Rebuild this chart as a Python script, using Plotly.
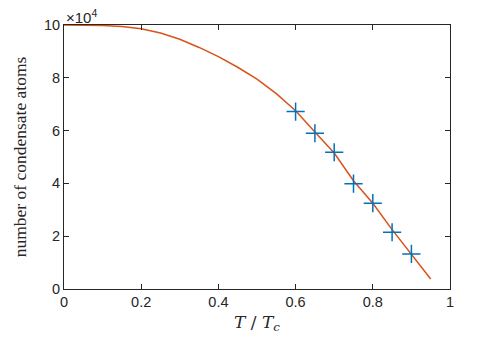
import plotly.graph_objects as go

# curve: N/1e4 vs T/Tc
t_curve = [0.0, 0.05, 0.1, 0.15, 0.2, 0.25, 0.3, 0.35, 0.4, 0.45, 0.5,
           0.55, 0.6, 0.65, 0.7, 0.75, 0.8, 0.85, 0.9, 0.95]
n_curve = [10.0, 10.0, 9.98, 9.94, 9.86, 9.7, 9.46, 9.15, 8.8, 8.4, 7.95,
           7.4, 6.75, 5.95, 5.15, 4.1, 3.25, 2.25, 1.33, 0.38]

# measured points (+)
t_meas = [0.6, 0.65, 0.7, 0.75, 0.8, 0.85, 0.9]
n_meas = [6.72, 5.9, 5.18, 3.99, 3.25, 2.15, 1.33]

x_ticks = [0, 0.2, 0.4, 0.6, 0.8, 1]
x_ticktext = ['0', '0.2', '0.4', '0.6', '0.8', '1']
y_ticks = [0, 2, 4, 6, 8, 10]

axcol = '#262626'

fig = go.Figure()
fig.add_trace(go.Scatter(x=t_curve, y=n_curve, mode='lines',
                         line=dict(color='#D95319', width=1.5),
                         showlegend=False))
fig.add_trace(go.Scatter(x=t_meas, y=n_meas, mode='markers',
                         marker=dict(symbol='cross-thin', size=13,
                                     line=dict(color='#0072BD', width=1.5)),
                         showlegend=False))

axis_common = dict(showgrid=False, zeroline=False, showline=True,
                   linecolor=axcol, linewidth=1, mirror='ticks',
                   ticks='inside', ticklen=5, tickcolor=axcol,
                   tickfont=dict(family='Liberation Sans', size=14.5, color=axcol))

fig.update_xaxes(range=[0, 1], tickvals=x_ticks, ticktext=x_ticktext,
                 title=dict(text='<i>T</i> / <i>T</i><sub><i>c</i></sub>',
                            font=dict(family='DejaVu Serif', size=17, color=axcol),
                            standoff=6),
                 **axis_common)
fig.update_yaxes(range=[0, 10], tickvals=y_ticks,
                 title=dict(text='number of condensate atoms',
                            font=dict(family='Liberation Serif', size=17.5, color=axcol),
                            standoff=12),
                 **axis_common)

fig.add_annotation(x=0, y=1, xref='paper', yref='paper', xanchor='left',
                   yanchor='bottom', showarrow=False, yshift=-3,
                   text='\u00d710<sup>4</sup>',
                   font=dict(family='Liberation Sans', size=15, color=axcol))

fig.update_layout(width=498, height=338, plot_bgcolor='white',
                  paper_bgcolor='white', hovermode=False,
                  margin=dict(l=64, r=48, t=25, b=49, autoexpand=False))

fig.write_html("out.html", config={'displayModeBar': False},
               post_script="document.body.style.margin='0';")
